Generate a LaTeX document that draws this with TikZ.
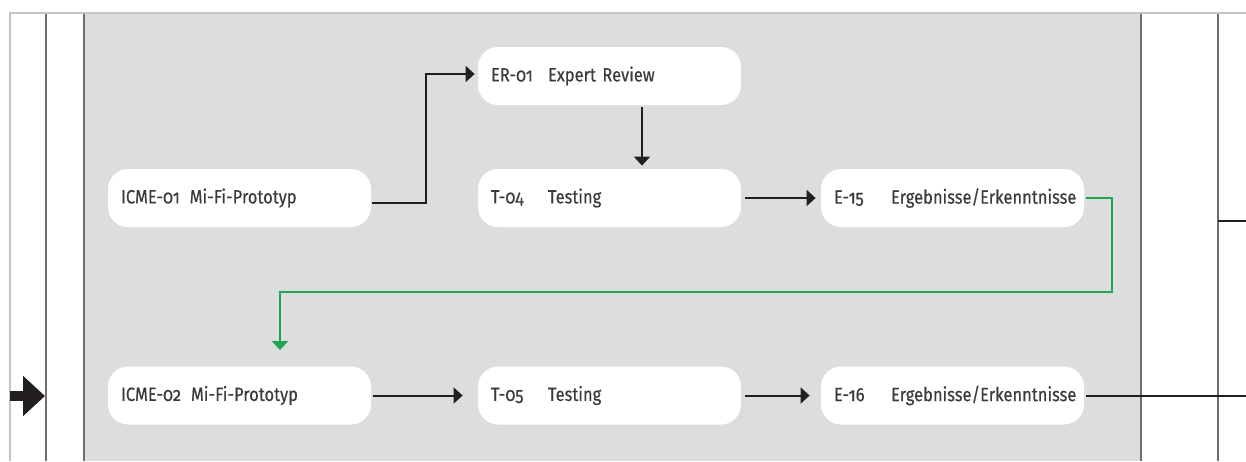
\documentclass[tikz,border=0pt]{standalone}
\usepackage{fontspec}
\setmainfont{Fira Sans}[Numbers=OldStyle, FakeStretch=0.86, FakeBold=0.3]
\usetikzlibrary{arrows.meta}
\definecolor{lanegray}{HTML}{DCDDDF}
\definecolor{laneline}{HTML}{6D6E71}
\definecolor{frameline}{HTML}{C4C4C6}
\definecolor{ink}{HTML}{231F20}
\definecolor{labelgray}{HTML}{3B3B3D}
\definecolor{loopgreen}{HTML}{1FA54F}
\newcommand\stepcode[1]{\makebox[28.5pt][l]{#1}}
\tikzset{
  stepbox/.style={fill=white, rounded corners=10pt, minimum width=131.5pt,
    minimum height=29pt, text width=118.5pt, inner xsep=6.5pt, inner ysep=0pt,
    align=left, text=labelgray, font=\fontsize{9.6}{11}\selectfont},
  flow/.style={draw=ink, line width=1pt, -{Triangle[length=4.5pt,width=8pt]}},
  loopflow/.style={draw=loopgreen, line width=1pt, -{Triangle[length=4.5pt,width=8pt]}},
  lanesep/.style={draw=laneline, line width=1pt},
  frame/.style={draw=frameline, line width=1pt},
}
\begin{document}
\begin{tikzpicture}[x=0.5pt, y=-0.5pt]
\useasboundingbox (0,0) rectangle (1246,461);
% lanes
\fill[lanegray] (84,14) rectangle (1141,461);
\draw[frame] (9,13) -- (1246,13);
\draw[frame] (9.5,13) -- (9.5,461);
\foreach \lx in {45.7,84,1140.7,1217.7}
  \draw[lanesep] (\lx,14) -- (\lx,461);
\draw[draw=ink, line width=1pt] (1218,221) -- (1246,221);

% steps
\node[stepbox] (icmeA) at (239.5,198) {ICME-01\hspace{5pt}Mi-Fi-Prototyp};
\node[stepbox] (er)    at (609.5,76)  {\stepcode{ER-01}Expert Review};
\node[stepbox] (tA)    at (609.5,198) {\stepcode{T-04}Testing};
\node[stepbox] (eA)    at (952.5,198) {\stepcode{E-15}Ergebnisse/Erkenntnisse};
\node[stepbox] (icmeB) at (239.5,395.5) {ICME-02\hspace{5pt}Mi-Fi-Prototyp};
\node[stepbox] (tB)    at (609.5,395.5) {\stepcode{T-05}Testing};
\node[stepbox] (eB)    at (952.5,395.5) {\stepcode{E-16}Ergebnisse/Erkenntnisse};

% entry arrow and exit
\coordinate (inS) at (10,396);
\coordinate (inE) at (45,396);
\coordinate (exitR) at (1246,395.5);
\draw[draw=ink, line width=5pt, -{Triangle[length=11pt,width=19.5pt]}] (inS) -- (inE);

% connectors
\draw[flow, shorten <=0.5pt, shorten >=1.5pt]
  ([yshift=-2.5pt]icmeA.east) -- ++(55,0) |- ([yshift=1pt]er.west);
\draw[flow, shorten <=1pt, shorten >=1.5pt]
  ([xshift=16.25pt]er.south) -- ([xshift=16.25pt]tA.north);
\draw[flow, shorten <=2pt, shorten >=2.5pt] (tA.east) -- (eA.west);
\draw[loopflow, shorten <=1pt, shorten >=8pt]
  (eA.east) -- ++(28,0) -- ++(0,94) -| ([xshift=20.25pt]icmeB.north);
\draw[flow, shorten <=1pt, shorten >=7.5pt] (icmeB.east) -- (tB.west);
\draw[flow, shorten <=2pt, shorten >=5.5pt] (tB.east) -- (eB.west);
\draw[draw=ink, line width=1pt, shorten <=1pt] (eB.east) -- (exitR);
\end{tikzpicture}
\end{document}
